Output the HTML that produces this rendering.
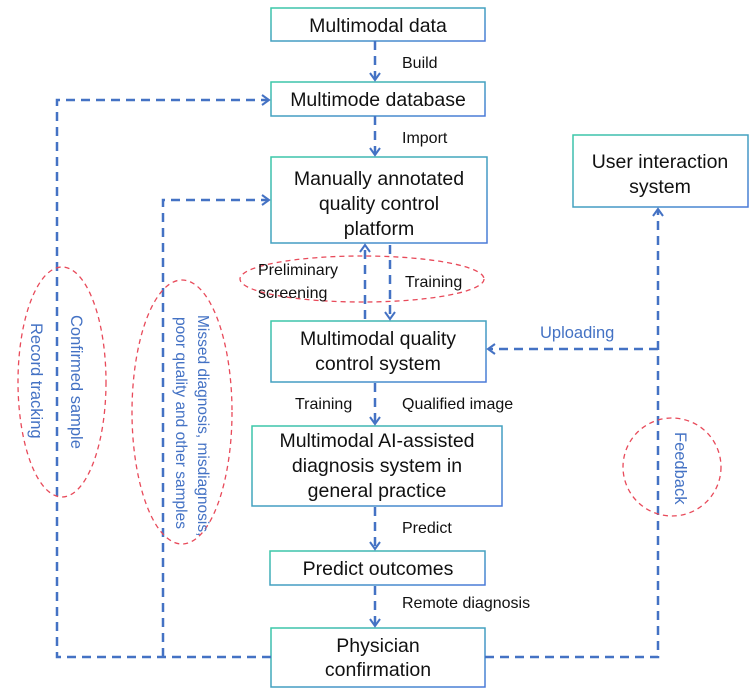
<!DOCTYPE html>
<html><head><style>
body{margin:0;width:753px;height:694px;background:#fff;overflow:hidden;font-family:"Liberation Sans",Arial,sans-serif}
</style></head><body>
<svg width="753" height="694" xmlns="http://www.w3.org/2000/svg" font-family="Liberation Sans, Arial, sans-serif">
<defs>
<linearGradient id="g" x1="0" y1="0" x2="1" y2="1"><stop offset="0" stop-color="#3cc8a8"/><stop offset="1" stop-color="#4a7ad8"/></linearGradient>
<marker id="a" markerWidth="12" markerHeight="12" refX="9" refY="6" orient="auto" markerUnits="userSpaceOnUse"><path d="M2,1 L9,6 L2,11" fill="none" stroke="#4472c4" stroke-width="2"/></marker>
</defs>
<g fill="none" stroke="url(#g)" stroke-width="1.5">
<rect x="271" y="8" width="214" height="33"/>
<rect x="271" y="82" width="214" height="34"/>
<rect x="271" y="157" width="216" height="86"/>
<rect x="573" y="135" width="175" height="72"/>
<rect x="271" y="321" width="215" height="61"/>
<rect x="252" y="426" width="250" height="80"/>
<rect x="270" y="551" width="215" height="34"/>
<rect x="271" y="628" width="214" height="59"/>
</g>
<g fill="none" stroke="#4472c4" stroke-width="2.5" stroke-dasharray="9,6">
<path d="M375,41 V80" marker-end="url(#a)"/>
<path d="M375,116 V155" marker-end="url(#a)"/>
<path d="M365,319 V245" marker-end="url(#a)"/>
<path d="M390,245 V319" marker-end="url(#a)"/>
<path d="M375,383 V424" marker-end="url(#a)"/>
<path d="M375,507 V549" marker-end="url(#a)"/>
<path d="M375,586 V626" marker-end="url(#a)"/>
<path d="M271,657 H57 V100 H269" marker-end="url(#a)"/>
<path d="M163,657 V200 H269" marker-end="url(#a)"/>
<path d="M485,657 H658 V209" marker-end="url(#a)"/>
<path d="M658,349 H488" marker-end="url(#a)"/>
</g>
<g fill="none" stroke="#e84a5a" stroke-width="1.3" stroke-dasharray="5,4">
<ellipse cx="362" cy="279" rx="122" ry="23"/>
<ellipse cx="62" cy="382" rx="44" ry="115"/>
<ellipse cx="182" cy="412" rx="50" ry="132"/>
<ellipse cx="672" cy="467" rx="49" ry="49"/>
</g>
<g fill="#111" font-size="19.5" text-anchor="middle">
<text x="378" y="32">Multimodal data</text>
<text x="378" y="106">Multimode database</text>
<text x="379" y="185">Manually annotated</text>
<text x="379" y="210">quality control</text>
<text x="379" y="235">platform</text>
<text x="660" y="168">User interaction</text>
<text x="660" y="193">system</text>
<text x="378" y="345">Multimodal quality</text>
<text x="378" y="370">control system</text>
<text x="377" y="447">Multimodal AI-assisted</text>
<text x="377" y="472">diagnosis system in</text>
<text x="377" y="497">general practice</text>
<text x="378" y="575">Predict outcomes</text>
<text x="378" y="652">Physician</text>
<text x="378" y="676">confirmation</text>
</g>
<g fill="#111" font-size="16">
<text x="402" y="68">Build</text>
<text x="402" y="143">Import</text>
<text x="258" y="275">Preliminary</text>
<text x="258" y="298">screening</text>
<text x="405" y="287">Training</text>
<text x="295" y="409">Training</text>
<text x="402" y="409">Qualified image</text>
<text x="402" y="533">Predict</text>
<text x="402" y="608">Remote diagnosis</text>
</g>
<g fill="#4472c4" font-size="16.5">
<text x="540" y="338">Uploading</text>
<text transform="translate(71,315) rotate(90)">Confirmed sample</text>
<text transform="translate(31,323) rotate(90)">Record tracking</text>
<text font-size="15.5" transform="translate(198,315) rotate(90)">Missed diagnosis, misdiagnosis,</text>
<text font-size="15.5" transform="translate(176,317) rotate(90)">poor quality and other samples</text>
<text transform="translate(675,432) rotate(90)">Feedback</text>
</g>
</svg>
</body></html>
